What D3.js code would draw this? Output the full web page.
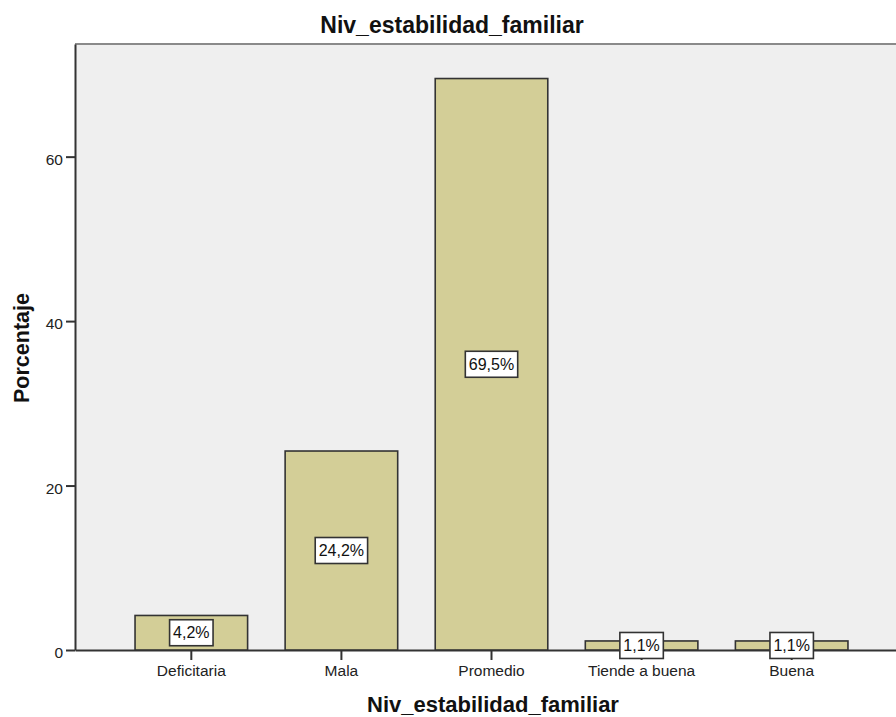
<!DOCTYPE html>
<html>
<head>
<meta charset="utf-8">
<script src="https://cdn.jsdelivr.net/npm/d3@7"></script>
<style>
  html, body { margin: 0; padding: 0; background: #fff; }
  svg { display: block; font-family: "Liberation Sans", Arial, sans-serif; }
</style>
</head>
<body>
<svg id="chart" width="896" height="717"></svg>
<script>
const categories = ["Deficitaria", "Mala", "Promedio", "Tiende a buena", "Buena"];
const percentages = [4.2, 24.2, 69.5, 1.1, 1.1];
const valueLabels = ["4,2%", "24,2%", "69,5%", "1,1%", "1,1%"];
const yTicks = [0, 20, 40, 60];
const chartTitle = "Niv_estabilidad_familiar";
const xTitle = "Niv_estabilidad_familiar";
const yTitle = "Porcentaje";

const svg = d3.select("#chart");
const pLeft = 75, pRight = 908, pTop = 44, pBottom = 650;

const x = d3.scaleBand().domain(categories).range([pLeft, pRight])
  .paddingInner(0.25).paddingOuter(0.4);
const y = d3.scaleLinear().domain([0, 73.7]).range([pBottom, pTop]);

// plot background
svg.append("rect").attr("x", pLeft).attr("y", pTop)
  .attr("width", pRight - pLeft).attr("height", pBottom - pTop)
  .attr("fill", "#efefef");
// top frame line (grey)
svg.append("line").attr("x1", pLeft).attr("x2", pRight).attr("y1", pTop).attr("y2", pTop)
  .attr("stroke", "#8a8a8a").attr("stroke-width", 2);

// title
svg.append("text").attr("x", 452).attr("y", 33).attr("text-anchor", "middle")
  .attr("font-size", "23px").attr("font-weight", "bold").attr("fill", "#111")
  .text(chartTitle);

// y axis
const yAxis = svg.append("g").attr("transform", `translate(${pLeft},0)`)
  .call(d3.axisLeft(y).tickValues(yTicks).tickSize(9).tickSizeOuter(0).tickPadding(3).tickFormat(d3.format("d")));
yAxis.select(".domain").attr("stroke", "#333").attr("stroke-width", 2);
yAxis.selectAll(".tick line").attr("stroke", "#333").attr("stroke-width", 2);
yAxis.selectAll(".tick text").attr("font-size", "15.5px").attr("fill", "#222")
  .attr("font-family", "'Liberation Sans', Arial, sans-serif").attr("dy", "0.5em");

// x axis
const xAxis = svg.append("g").attr("transform", `translate(0,${pBottom})`)
  .call(d3.axisBottom(x).tickSize(10).tickPadding(5).tickSizeOuter(0));
xAxis.select(".domain").attr("stroke", "#333").attr("stroke-width", 2);
xAxis.selectAll(".tick line").attr("stroke", "#333").attr("stroke-width", 2);
xAxis.selectAll(".tick text").attr("font-size", "15.5px").attr("fill", "#222")
  .attr("font-family", "'Liberation Sans', Arial, sans-serif");

// bars
svg.append("g").selectAll("rect").data(categories).join("rect")
  .attr("x", d => x(d))
  .attr("y", (d, i) => y(percentages[i]))
  .attr("width", x.bandwidth())
  .attr("height", (d, i) => y(0) - y(percentages[i]))
  .attr("fill", "#d3ce97")
  .attr("stroke", "#333")
  .attr("stroke-width", 1.6);

// value labels with boxes
const lbl = svg.append("g").selectAll("g").data(categories).join("g")
  .attr("transform", (d, i) => `translate(${x(d) + x.bandwidth() / 2},${(y(0) + y(percentages[i])) / 2})`);
lbl.append("text")
  .attr("text-anchor", "middle").attr("dy", "0.36em")
  .attr("font-size", "16px").attr("fill", "#111")
  .text((d, i) => valueLabels[i]);
lbl.each(function () {
  const g = d3.select(this);
  const t = g.select("text");
  const bb = t.node().getBBox();
  g.insert("rect", "text")
    .attr("x", bb.x - 3.5).attr("y", -13)
    .attr("width", bb.width + 7).attr("height", 26)
    .attr("fill", "#fff").attr("stroke", "#333").attr("stroke-width", 1.6);
});

// axis titles
svg.append("text").attr("x", 493).attr("y", 712).attr("text-anchor", "middle")
  .attr("font-size", "22px").attr("font-weight", "bold").attr("fill", "#111")
  .text(xTitle);
svg.append("text").attr("transform", "translate(29,348) rotate(-90)")
  .attr("text-anchor", "middle")
  .attr("font-size", "21.5px").attr("font-weight", "bold").attr("fill", "#111")
  .text(yTitle);
</script>
</body>
</html>
